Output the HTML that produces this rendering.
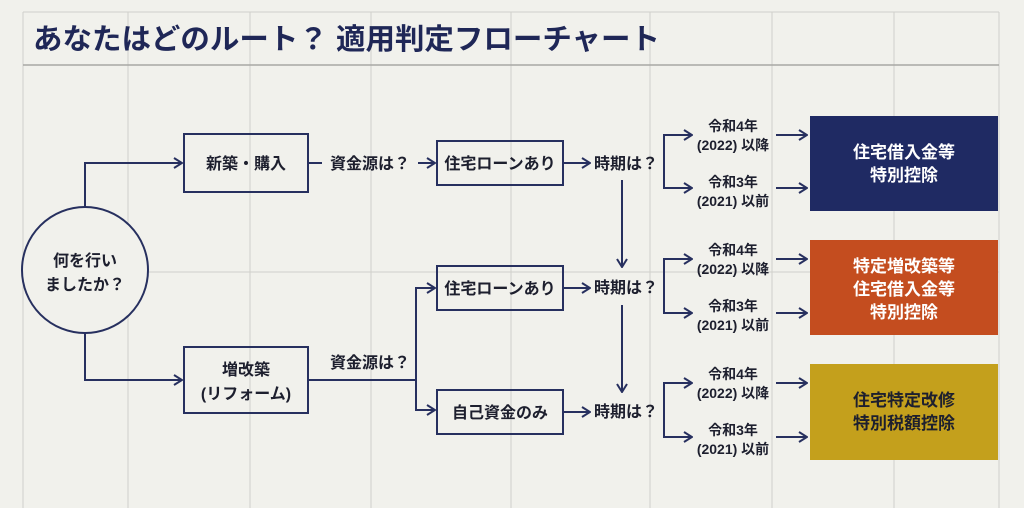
<!DOCTYPE html>
<html><head><meta charset="utf-8"><style>
body{margin:0;background:#f1f1ec;}
svg{display:block}
text{font-family:"Liberation Sans","Noto Sans CJK JP",sans-serif;font-weight:bold;fill:#1d1f2e}
</style></head><body>
<svg width="1024" height="508" viewBox="0 0 1024 508" xmlns="http://www.w3.org/2000/svg">
<defs><marker id="a" markerWidth="10" markerHeight="12" refX="9" refY="6" orient="auto" markerUnits="userSpaceOnUse"><path d="M1,1 L9,6 L1,11" fill="none" stroke="#27305f" stroke-width="2"/></marker></defs>
<rect width="1024" height="508" fill="#f1f1ec"/>
<g stroke="#d0d0cb" stroke-width="1">
<line x1="23" y1="12" x2="23" y2="508"/><line x1="128" y1="12" x2="128" y2="508"/><line x1="250" y1="12" x2="250" y2="508"/><line x1="371" y1="12" x2="371" y2="508"/><line x1="511" y1="12" x2="511" y2="508"/><line x1="650" y1="12" x2="650" y2="508"/><line x1="772" y1="12" x2="772" y2="508"/><line x1="894" y1="12" x2="894" y2="508"/><line x1="999" y1="12" x2="999" y2="508"/>
<line x1="23" y1="12" x2="999" y2="12"/><line x1="23" y1="272" x2="999" y2="272"/>
</g>
<line x1="23" y1="65" x2="999" y2="65" stroke="#a8a8a4" stroke-width="1.5"/>
<text x="33" y="49" font-size="29" textLength="627" lengthAdjust="spacingAndGlyphs" style="fill:#1f2757">あなたはどのルート？ 適用判定フローチャート</text>
<g stroke="#27305f" stroke-width="2" fill="none">
<circle cx="85" cy="270" r="63" fill="#f1f1ec"/>
<polyline points="85,207 85,163 182,163" marker-end="url(#a)"/>
<polyline points="85,333 85,380 182,380" marker-end="url(#a)"/>
<rect x="184" y="134" width="124" height="58"/>
<rect x="184" y="347" width="124" height="66"/>
<line x1="308" y1="163" x2="322" y2="163"/>
<line x1="418" y1="163" x2="435" y2="163" marker-end="url(#a)"/>
<rect x="437" y="141" width="126" height="44"/>
<rect x="437" y="266" width="126" height="44"/>
<rect x="437" y="390" width="126" height="44"/>
<line x1="308" y1="380" x2="416" y2="380"/>
<polyline points="435,288 416,288 416,410 435,410"/>
<line x1="416" y1="288" x2="435" y2="288" marker-end="url(#a)"/>
<line x1="416" y1="410" x2="435" y2="410" marker-end="url(#a)"/>
<line x1="563" y1="163" x2="590" y2="163" marker-end="url(#a)"/>
<line x1="563" y1="288" x2="590" y2="288" marker-end="url(#a)"/>
<line x1="563" y1="412" x2="590" y2="412" marker-end="url(#a)"/>
<line x1="622" y1="180" x2="622" y2="267" marker-end="url(#a)"/>
<line x1="622" y1="305" x2="622" y2="392" marker-end="url(#a)"/>
<polyline points="692,135 664,135 664,188 692,188"/><line x1="664" y1="135" x2="692" y2="135" marker-end="url(#a)"/><line x1="664" y1="188" x2="692" y2="188" marker-end="url(#a)"/>
<polyline points="692,259 664,259 664,313 692,313"/><line x1="664" y1="259" x2="692" y2="259" marker-end="url(#a)"/><line x1="664" y1="313" x2="692" y2="313" marker-end="url(#a)"/>
<polyline points="692,383 664,383 664,437 692,437"/><line x1="664" y1="383" x2="692" y2="383" marker-end="url(#a)"/><line x1="664" y1="437" x2="692" y2="437" marker-end="url(#a)"/>
<line x1="776" y1="135" x2="807" y2="135" marker-end="url(#a)"/><line x1="776" y1="188" x2="807" y2="188" marker-end="url(#a)"/>
<line x1="776" y1="259" x2="807" y2="259" marker-end="url(#a)"/><line x1="776" y1="313" x2="807" y2="313" marker-end="url(#a)"/>
<line x1="776" y1="383" x2="807" y2="383" marker-end="url(#a)"/><line x1="776" y1="437" x2="807" y2="437" marker-end="url(#a)"/>
</g>
<rect x="810" y="116" width="188" height="95" fill="#1f2a63"/>
<rect x="810" y="240" width="188" height="95" fill="#c44d1f"/>
<rect x="810" y="364" width="188" height="96" fill="#c4a01c"/>
<g text-anchor="middle" font-size="16">
<text x="85" y="266">何を行い</text><text x="85" y="290">ましたか？</text>
<text x="246" y="169">新築・購入</text>
<text x="246" y="375">増改築</text><text x="246" y="399">(リフォーム)</text>
<text x="370" y="169">資金源は？</text>
<text x="370" y="368">資金源は？</text>
<text x="500" y="169">住宅ローンあり</text>
<text x="500" y="294">住宅ローンあり</text>
<text x="500" y="418">自己資金のみ</text>
<text x="626" y="169">時期は？</text><text x="626" y="293">時期は？</text><text x="626" y="417">時期は？</text>
</g>
<g text-anchor="middle" font-size="14">
<text x="733" y="131">令和4年</text><text x="733" y="150">(2022) 以降</text>
<text x="733" y="187">令和3年</text><text x="733" y="206">(2021) 以前</text>
<text x="733" y="255">令和4年</text><text x="733" y="274">(2022) 以降</text>
<text x="733" y="311">令和3年</text><text x="733" y="330">(2021) 以前</text>
<text x="733" y="379">令和4年</text><text x="733" y="398">(2022) 以降</text>
<text x="733" y="435">令和3年</text><text x="733" y="454">(2021) 以前</text>
</g>
<g text-anchor="middle" font-size="17">
<text x="904" y="158" style="fill:#fff">住宅借入金等</text><text x="904" y="181" style="fill:#fff">特別控除</text>
<text x="904" y="272" style="fill:#fff">特定増改築等</text><text x="904" y="295" style="fill:#fff">住宅借入金等</text><text x="904" y="318" style="fill:#fff">特別控除</text>
<text x="904" y="406">住宅特定改修</text><text x="904" y="429">特別税額控除</text>
</g>
</svg>
</body></html>
